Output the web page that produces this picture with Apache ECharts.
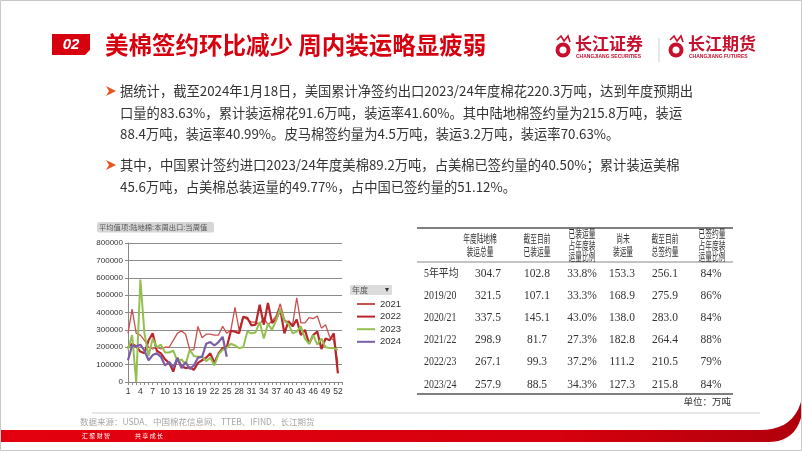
<!DOCTYPE html>
<html>
<head>
<meta charset="utf-8">
<script src="https://cdn.jsdelivr.net/npm/echarts@6/dist/echarts.min.js"></script>
<style>
html,body{margin:0;padding:0;background:#fff;}
#slide{width:802px;height:451px;}
</style>
</head>
<body>
<div id="slide"></div>
<script>
const weeks = ['1','2','3','4','5','6','7','8','9','10','11','12','13','14','15','16','17','18','19','20','21','22','23','24','25','26','27','28','29','30','31','32','33','34','35','36','37','38','39','40','41','42','43','44','45','46','47','48','49','50','51','52','53']
const yearNames = ['2021','2022','2023','2024']
const s2021 = [280000,420000,280000,270000,240000,200000,190000,200000,190000,200000,200000,240000,280000,295000,275000,185000,185000,320000,255000,275000,275000,270000,270000,320000,280000,300000,430000,300000,375000,360000,345000,345000,330000,370000,330000,350000,380000,450000,360000,340000,330000,485000,340000,340000,370000,365000,380000,310000,330000,260000,240000,110000]
const s2022 = [200000,220000,205000,175000,165000,240000,280000,180000,165000,130000,110000,60000,140000,90000,80000,85000,70000,110000,125000,140000,165000,110000,165000,195000,200000,295000,290000,280000,375000,370000,325000,330000,445000,330000,455000,340000,360000,420000,280000,350000,320000,360000,270000,300000,220000,270000,290000,190000,250000,240000,280000,50000]
const s2023 = [185000,270000,0,590000,280000,150000,250000,200000,215000,170000,170000,180000,120000,130000,100000,185000,150000,145000,145000,120000,140000,95000,160000,185000,195000,220000,210000,195000,200000,290000,280000,285000,345000,250000,335000,300000,355000,420000,350000,335000,280000,290000,320000,250000,220000,270000,215000,250000,200000,195000,195000,185000]
const s2024 = [125000,210000,205000,215000,180000,125000,155000,165000,145000,95000,115000,85000,135000,80000,115000,75000,95000,140000,145000,220000,230000,210000,230000,260000,145000]

const rowLabels = ['5年平均','2019/20','2020/21','2021/22','2022/23','2023/24']
const colHeaders = [['年度陆地棉','装运总量'],['截至目前','已装运量'],['已装运量','占年度装','运量比例'],['尚未','装运量'],['截至目前','总签约量'],['已签约量','占年度装','运量比例']]
const totalShip = ['304.7','321.5','337.5','298.9','267.1','257.9']
const shipped = ['102.8','107.1','145.1','81.7','99.3','88.5']
const shippedPct = ['33.8%','33.3%','43.0%','27.3%','37.2%','34.3%']
const unshipped = ['153.3','168.9','138.0','182.8','111.2','127.3']
const signed = ['256.1','275.9','283.0','264.4','210.5','215.8']
const signedPct = ['84%','86%','84%','88%','79%','84%']

const textLines = [
  '据统计，截至2024年1月18日，美国累计净签约出口2023/24年度棉花220.3万吨，达到年度预期出',
  '口量的83.63%，累计装运棉花91.6万吨，装运率41.60%。其中陆地棉签约量为215.8万吨，装运',
  '88.4万吨，装运率40.99%。皮马棉签约量为4.5万吨，装运3.2万吨，装运率70.63%。',
  '其中，中国累计签约进口2023/24年度美棉89.2万吨，占美棉已签约量的40.50%；累计装运美棉',
  '45.6万吨，占美棉总装运量的49.77%，占中国已签约量的51.12%。'
]

const CJK = '"Noto Sans CJK SC", sans-serif'
const SERIF = '"Liberation Serif", "Noto Sans CJK SC", serif'
const RED = '#d7000f'

let chart = echarts.init(document.getElementById('slide'))

// slide decoration
let g = []
g.push({type:'rect', shape:{x:0.5,y:0.5,width:801,height:450}, style:{fill:'none',stroke:'#c8c8c8',lineWidth:1}, z:1})
g.push({type:'polygon', shape:{points:[[52,34],[90,34],[90,50],[85,55],[52,55]]}, style:{fill:RED}})
g.push({type:'text', x:71, y:45, style:{text:'02', fill:'#fff', font:'italic bold 15px "Liberation Sans"', align:'center', verticalAlign:'middle'}})
g.push({type:'text', x:105, y:45, style:{text:'美棉签约环比减少 周内装运略显疲弱', fill:RED, font:'bold 23.5px ' + CJK, verticalAlign:'middle'}})

// logos
function logo(x, name, en){
  g.push({type:'circle', shape:{cx:x+8, cy:50, r:7.5}, style:{fill:'#c8102e'}})
  g.push({type:'circle', shape:{cx:x+8, cy:50, r:3.5}, style:{fill:'#fff'}})
  g.push({type:'polyline', shape:{points:[[x+2,40],[x+6,36],[x+9,41],[x+13,36],[x+15,42]]}, style:{stroke:'#c8102e',lineWidth:1.6,fill:'none'}})
  g.push({type:'text', x:x+20, y:44, style:{text:name, fill:'#c8102e', font:'bold 17px ' + CJK, verticalAlign:'middle'}})
  g.push({type:'text', x:x+21, y:57, style:{text:en, fill:'#c8102e', font:'bold 5px "Liberation Sans"', verticalAlign:'middle'}})
}
logo(555, '长江证券', 'CHANGJIANG SECURITIES')
g.push({type:'line', shape:{x1:659,y1:38,x2:659,y2:62}, style:{stroke:'#cfcfcf',lineWidth:1}})
logo(668, '长江期货', 'CHANGJIANG FUTURES')

// paragraphs
const lineY = [91, 112.5, 134, 165, 187]
textLines.forEach((t, i) => {
  g.push({type:'text', x:120, y:lineY[i], style:{text:t, fill:'#333', font:'13.3px ' + CJK, verticalAlign:'middle'}})
})
;[91, 165].forEach(y => {
  g.push({type:'polygon', shape:{points:[[106,y-5],[116,y],[106,y+5],[109,y]]}, style:{fill:'#e8541e'}})
})

// chart pill & legend header
g.push({type:'rect', shape:{x:97,y:222,width:117,height:10.5,r:2}, style:{fill:'#d6d6d6'}})
g.push({type:'text', x:99, y:227.5, style:{text:'平均值项:陆地棉:本周出口:当周值', fill:'#555', font:'7.3px ' + CJK, verticalAlign:'middle'}})
g.push({type:'rect', shape:{x:350,y:285,width:42,height:10,r:1}, style:{fill:'#dcdcdc'}})
g.push({type:'text', x:352, y:290, style:{text:'年度', fill:'#555', font:'8px ' + CJK, verticalAlign:'middle'}})
g.push({type:'text', x:385, y:290, style:{text:'▾', fill:'#333', font:'8px "DejaVu Sans"', verticalAlign:'middle'}})

// table
const tLeft = 417, tRight = 733
g.push({type:'line', shape:{x1:tLeft,y1:228,x2:tRight,y2:228}, style:{stroke:'#555',lineWidth:1.3}})
g.push({type:'line', shape:{x1:tLeft,y1:262,x2:tRight,y2:262}, style:{stroke:'#888',lineWidth:1}})
g.push({type:'line', shape:{x1:tLeft,y1:394,x2:tRight,y2:394}, style:{stroke:'#555',lineWidth:1.3}})
const headX = [480, 537, 582, 623, 665, 712]
const colX = [488, 537, 582, 622, 665, 711]
colHeaders.forEach((h, c) => {
  const ys = h.length === 2 ? [238.5, 251.7] : [233.5, 245.2, 256.8]
  h.forEach((t, k) => {
    g.push({type:'text', x:headX[c], y:ys[k], scaleX:0.57, style:{text:t, fill:'#333', font:'11.8px ' + CJK, align:'center', verticalAlign:'middle'}})
  })
})
const cols = [totalShip, shipped, shippedPct, unshipped, signed, signedPct]
rowLabels.forEach((r, i) => {
  const y = 273.5 + i * 22.2
  g.push({type:'text', x:424, y:y, scaleX:0.86, style:{text:r, fill:'#333', font:'11.5px ' + SERIF, verticalAlign:'middle'}})
  cols.forEach((col, c) => {
    g.push({type:'text', x:colX[c], y:y, style:{text:col[i], fill:'#333', font:'11.5px ' + SERIF, align:'center', verticalAlign:'middle'}})
  })
})
g.push({type:'text', x:731, y:401, style:{text:'单位：万吨', fill:'#333', font:'9.5px ' + CJK, align:'right', verticalAlign:'middle'}})

// footer
g.push({type:'line', shape:{x1:92,y1:413,x2:760,y2:413}, style:{stroke:'#d0d0d0',lineWidth:1}})
g.push({type:'text', x:80, y:422, style:{text:'数据来源：USDA、中国棉花信息网、TTEB、IFIND、长江期货', fill:'#a6a6a6', font:'8.5px ' + CJK, verticalAlign:'middle'}})
let band = [[0,430],[760,430]]
for (let k = 1; k <= 10; k++) {
  const t = k / 10
  band.push([(1-t)*(1-t)*760 + 2*t*(1-t)*795 + t*t*802, (1-t)*(1-t)*430 + 2*t*(1-t)*430 + t*t*398])
}
band.push([802,414])
for (let k = 1; k <= 10; k++) {
  const t = k / 10
  band.push([(1-t)*(1-t)*802 + 2*t*(1-t)*796 + t*t*768, (1-t)*(1-t)*414 + 2*t*(1-t)*442 + t*t*442])
}
band.push([0,442])
g.push({type:'polygon', shape:{points:band}, style:{fill:new echarts.graphic.LinearGradient(0,0,1,0,[{offset:0,color:'#e4000f'},{offset:0.7,color:'#d6000e'},{offset:1,color:'#b0000c'}])}})
g.push({type:'text', x:82, y:436, style:{text:'汇 聚 财 智', fill:'#fff', font:'6px ' + CJK, verticalAlign:'middle'}})
g.push({type:'text', x:135, y:436, style:{text:'共 享 成 长', fill:'#fff', font:'6px ' + CJK, verticalAlign:'middle'}})

const colors = ['#c9504e','#b8262c','#93c04f','#7b5ea8']
const widths = [1.3, 2.2, 2, 2.2]
const seriesData = [s2021, s2022, s2023, s2024]

chart.setOption({
  animation:false,
  textStyle:{fontFamily:'"Liberation Sans", sans-serif'},
  graphic:g,
  grid:{left:128, top:243, width:214, height:139},
  legend:{
    orient:'vertical', left:352, top:293.5, icon:'rect', itemWidth:18, itemHeight:2, itemGap:1.6,
    textStyle:{fontSize:9.5, color:'#333', lineHeight:11}, data:yearNames
  },
  xAxis:{
    type:'category', data:weeks, boundaryGap:false,
    axisLine:{lineStyle:{color:'#888'}},
    axisTick:{interval:0, length:3, lineStyle:{color:'#888'}},
    axisLabel:{interval:2, fontSize:8.5, color:'#333', margin:5},
    splitLine:{show:false}
  },
  yAxis:{
    type:'value', min:0, max:800000, interval:100000,
    axisLine:{show:true, lineStyle:{color:'#888'}},
    axisTick:{show:true, length:3, lineStyle:{color:'#888'}},
    axisLabel:{fontSize:8, color:'#333', margin:5, formatter:v => String(v)},
    splitLine:{lineStyle:{color:'#8c8c8c', width:1}}
  },
  series:yearNames.map((n, i) => ({
    name:n, type:'line', data:seriesData[i], symbol:'none',
    lineStyle:{width:widths[i], color:colors[i]}, itemStyle:{color:colors[i]}
  }))
})
</script>
</body>
</html>
